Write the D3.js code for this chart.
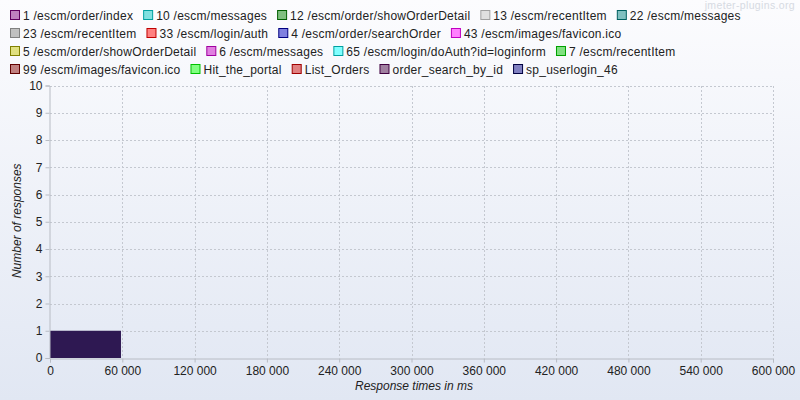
<!DOCTYPE html>
<html><head><meta charset="utf-8">
<script src="https://cdn.jsdelivr.net/npm/d3@7"></script>
<style>body{margin:0;padding:0;overflow:hidden}svg{display:block}text{font-family:"Liberation Sans",Arial,sans-serif}</style>
</head><body><svg id="c" width="800" height="400"></svg>
<script>
const seriesNames = ["1 /escm/order/index","10 /escm/messages","12 /escm/order/showOrderDetail","13 /escm/recentItem","22 /escm/messages","23 /escm/recentItem","33 /escm/login/auth","4 /escm/order/searchOrder","43 /escm/images/favicon.ico","5 /escm/order/showOrderDetail","6 /escm/messages","65 /escm/login/doAuth?id=loginform","7 /escm/recentItem","99 /escm/images/favicon.ico","Hit_the_portal","List_Orders","order_search_by_id","sp_userlogin_46"];
const seriesFill = ["#c080c0","#80e0e0","#80c080","#e0e0e0","#80c0c0","#c0c0c0","#ff8080","#8080e0","#ff80ff","#e0e080","#e080e0","#80ffff","#80e080","#c08080","#80ff80","#e08080","#a080a0","#8080c0"];
const seriesStroke = ["#600060","#00a0a0","#006000","#a0a0a0","#006060","#808080","#c00000","#000080","#c000c0","#808000","#a000a0","#00a0a0","#00a000","#600000","#00c000","#a00000","#400040","#000040"];
const binStarts = [0];
const binEnds = [58900];
const binCounts = [1];
const xTicks = [0,60000,120000,180000,240000,300000,360000,420000,480000,540000,600000];
const yTicks = [0,1,2,3,4,5,6,7,8,9,10];

const svg = d3.select("#c");
const defs = svg.append("defs");
const g = defs.append("linearGradient").attr("id","bg").attr("x1",0).attr("y1",0).attr("x2",0).attr("y2",1);
g.append("stop").attr("offset","0%").attr("stop-color","#fcfcfe");
g.append("stop").attr("offset","100%").attr("stop-color","#e1e7f3");
svg.append("rect").attr("width",800).attr("height",400).attr("fill","url(#bg)");

const L=50,R=773,T=85.5,B=358;
const x = d3.scaleLinear().domain([0,600000]).range([L,R]);
const y = d3.scaleLinear().domain([0,10]).range([B,T]);
const fmt = v => d3.format(",")(v).replace(/,/g," ");

// grid
const grid = svg.append("g").attr("stroke","#c4c8d0").attr("stroke-dasharray","2,2").attr("shape-rendering","crispEdges");
yTicks.filter(d=>d>0).forEach(d=>grid.append("line").attr("x1",L).attr("x2",R).attr("y1",Math.round(y(d))+0.5).attr("y2",Math.round(y(d))+0.5));
xTicks.filter(d=>d>0).forEach(d=>grid.append("line").attr("y1",T).attr("y2",B).attr("x1",Math.round(x(d))+0.5).attr("x2",Math.round(x(d))+0.5));

// bars
svg.append("g").selectAll("rect").data(binCounts).join("rect")
  .attr("x",(d,i)=>x(binStarts[i])).attr("width",(d,i)=>x(binEnds[i])-x(binStarts[i]))
  .attr("y",d=>y(d)).attr("height",d=>B-y(d)).attr("fill","#2e1852");

// axes
const xa = svg.append("g").attr("transform",`translate(0,${B+0.5})`)
  .call(d3.axisBottom(x).tickValues(xTicks).tickFormat(fmt).tickSize(4).tickPadding(4));
const ya = svg.append("g").attr("transform",`translate(${L-0.5},0)`)
  .call(d3.axisLeft(y).tickValues(yTicks).tickSize(4).tickPadding(3));
[xa,ya].forEach(a=>{a.select(".domain").attr("stroke","#b8bcc4");a.selectAll(".tick line").attr("stroke","#b8bcc4");
  a.selectAll("text").attr("fill","#222").attr("font-size",12).attr("font-family","Liberation Sans, Arial, sans-serif");});

svg.append("text").attr("x",414).attr("y",390).attr("text-anchor","middle").attr("font-size",12).attr("font-style","italic").attr("fill","#222").text("Response times in ms");
svg.append("text").attr("transform",`translate(21,${(T+B)/2 - 1}) rotate(-90)`).attr("text-anchor","middle").attr("font-size",12).attr("font-style","italic").attr("fill","#222").text("Number of responses");

// watermark
svg.append("text").attr("x",795).attr("y",9).attr("text-anchor","end").attr("font-size",10.5).attr("letter-spacing",0.35).attr("fill","#d6dae2").text("jmeter-plugins.org");

// legend flow
const leg = svg.append("g");
let lx=10, ly=0; const rowH=18, maxX=792;
seriesNames.forEach((n,i)=>{
  const it = leg.append("g");
  const t = it.append("text").attr("x",13).attr("y",9.5).attr("font-size",12).attr("letter-spacing",0.25).attr("fill","#222").text(n);
  const w = 13 + t.node().getComputedTextLength();
  if (lx + w > maxX) { lx = 10; ly += 1; }
  it.append("rect").attr("x",0.5).attr("y",0.5).attr("width",9).attr("height",9).attr("fill",seriesFill[i]).attr("stroke",seriesStroke[i]);
  it.attr("transform",`translate(${lx},${10+ly*rowH})`);
  lx += w + 10;
});
</script></body></html>
